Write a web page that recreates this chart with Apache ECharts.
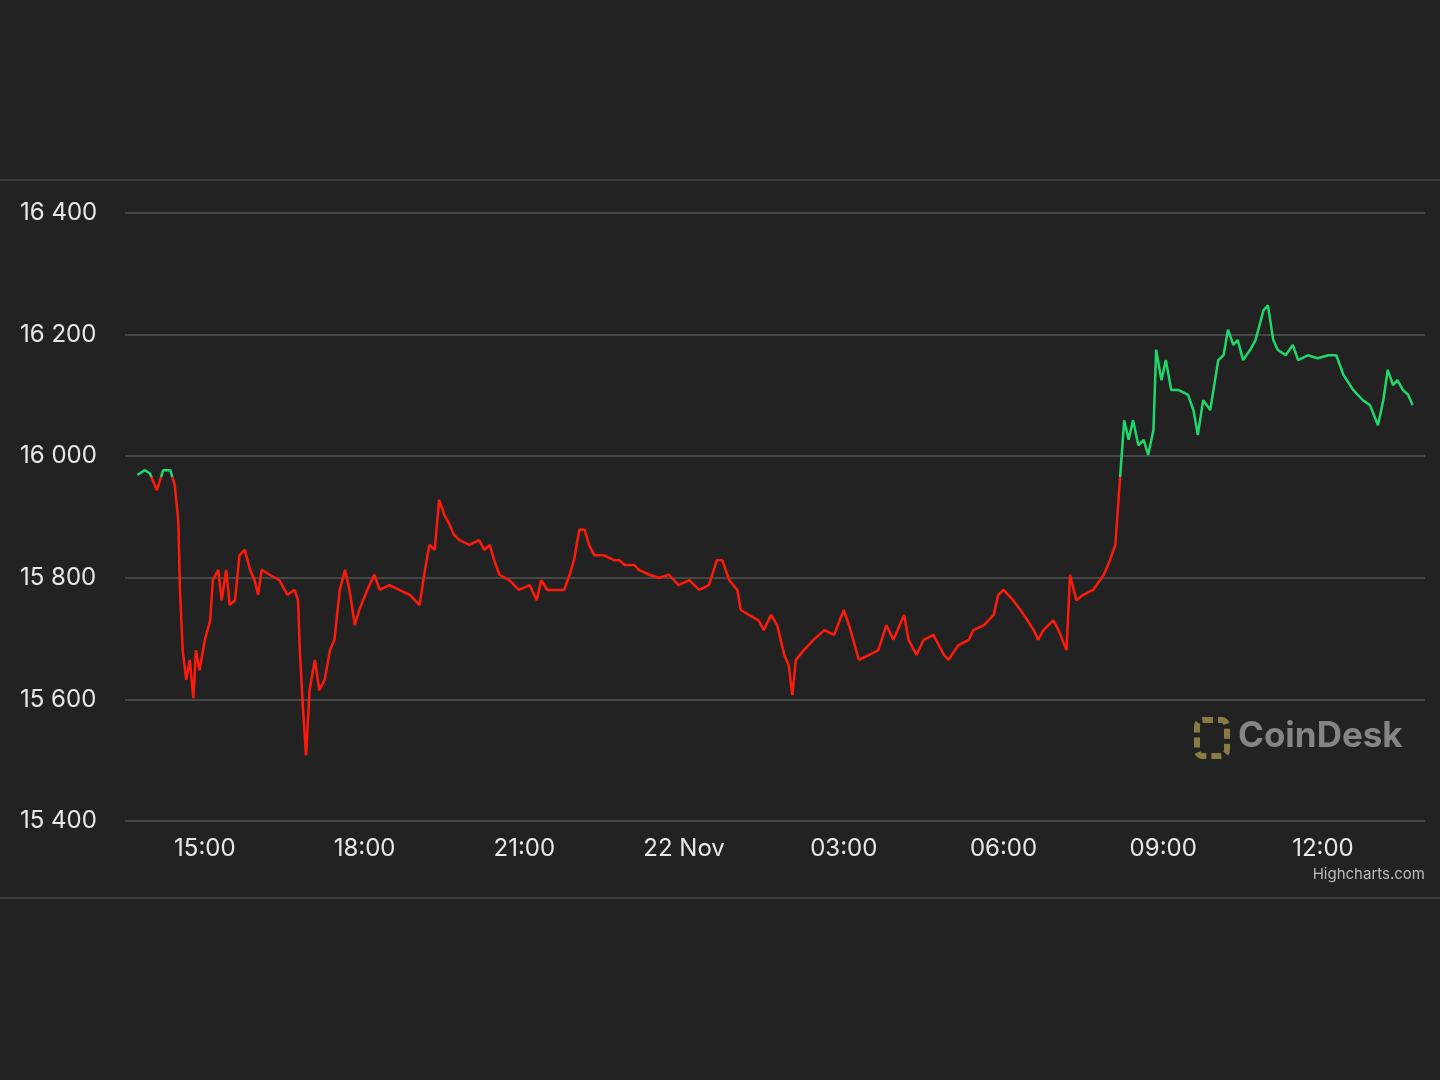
<!DOCTYPE html>
<html><head><meta charset="utf-8">
<script src="https://cdn.jsdelivr.net/npm/echarts@6/dist/echarts.min.js"></script>
<style>html,body{margin:0;background:#222222}#main{width:1440px;height:1080px}</style>
</head><body><div id="main"></div>
<script>
// minutes after 13:30 on 21 Nov
var startMinute = 810;
var minutes = [14,22,28,36,43,51,56,60,62,65,69,73,77,80,84,90,96,99,105,109,114,118,124,129,135,141,146,150,154,163,174,183,191,195,197,200,204,208,214,219,225,231,236,242,248,253,259,264,273,281,287,298,309,321,332,338,343,349,354,360,366,371,377,388,399,405,411,416,422,433,444,456,464,469,476,484,495,501,506,512,518,523,529,540,551,557,563,574,579,591,602,613,624,636,647,658,667,673,681,690,694,703,714,720,728,735,743,748,752,756,765,776,788,799,810,816,827,838,849,858,866,878,883,892,900,911,923,928,939,951,956,968,979,984,990,1001,1013,1024,1029,1035,1046,1052,1061,1065,1072,1080,1091,1103,1110,1116,1122,1126,1131,1136,1142,1148,1153,1159,1162,1168,1173,1179,1187,1198,1204,1209,1215,1223,1232,1238,1243,1249,1254,1260,1268,1274,1283,1288,1294,1299,1308,1316,1322,1333,1344,1356,1365,1373,1384,1395,1403,1412,1418,1423,1429,1434,1440,1446,1451];
var prices = [15969,15977,15972,15944,15977,15977,15953,15895,15780,15681,15632,15665,15602,15681,15648,15698,15730,15796,15813,15763,15813,15755,15763,15837,15846,15813,15796,15772,15813,15805,15796,15772,15780,15763,15681,15599,15508,15615,15665,15615,15632,15681,15698,15780,15813,15780,15722,15747,15780,15805,15780,15788,15780,15772,15755,15813,15854,15846,15928,15903,15887,15870,15862,15854,15862,15846,15854,15829,15805,15796,15780,15788,15763,15796,15780,15780,15780,15805,15829,15879,15879,15854,15837,15837,15829,15829,15821,15821,15813,15805,15800,15805,15788,15796,15780,15788,15829,15829,15796,15780,15747,15739,15730,15714,15739,15722,15673,15656,15607,15665,15681,15698,15714,15706,15747,15722,15665,15673,15681,15722,15698,15739,15698,15673,15698,15706,15673,15665,15689,15698,15714,15722,15739,15772,15780,15763,15739,15714,15698,15714,15730,15714,15681,15805,15763,15772,15780,15805,15829,15854,15977,16059,16027,16059,16018,16027,16002,16043,16175,16125,16158,16109,16109,16101,16076,16035,16092,16076,16158,16166,16208,16183,16191,16158,16175,16191,16240,16248,16191,16175,16166,16183,16158,16166,16161,16166,16166,16134,16109,16092,16084,16051,16092,16142,16117,16125,16109,16101,16084];
var tickMinutes = [900,1080,1260,1440,1620,1800,1980,2160];
var tickLabels = ['15:00','18:00','21:00','22 Nov','03:00','06:00','09:00','12:00'];
var openPrice = 15965;
var yMin = 15400, yMax = 16400;

var data = [];
var n = Math.min(minutes.length, prices.length);
for (var i = 0; i < n; i++) data.push([startMinute + minutes[i], prices[i]]);

var chart = echarts.init(document.getElementById('main'));
var font = 'Inter, "Noto Sans", sans-serif';
var gridTop = 213, gridBottom = 259;
var cut = (yMax - openPrice) / (yMax - yMin);
var lineColor = new echarts.graphic.LinearGradient(0, gridTop, 0, 1080 - gridBottom, [
  {offset: 0, color: '#1ed86a'}, {offset: cut, color: '#1ed86a'},
  {offset: cut, color: '#ff1a0a'}, {offset: 1, color: '#ff1a0a'}
], true);
chart.setOption({
  backgroundColor: '#222222',
  animation: false,
  grid: {left: 125, right: 15, top: gridTop, bottom: gridBottom},
  xAxis: {
    type: 'value', min: 810, max: 2275,
    axisLine: {show: false}, axisTick: {show: false}, splitLine: {show: false},
    axisLabel: {
      customValues: tickMinutes, color: '#e8e8e8', fontSize: 24, fontFamily: font, margin: 16,
      formatter: function (v) { return tickLabels[tickMinutes.indexOf(v)]; }
    }
  },
  yAxis: {
    type: 'value', min: yMin, max: yMax, interval: 200,
    axisLine: {show: false}, axisTick: {show: false},
    splitLine: {lineStyle: {color: '#555555', width: 1.5}},
    axisLabel: {
      color: '#e8e8e8', fontSize: 24, fontFamily: font, align: 'left', margin: 105,
      formatter: function (v) { return String(v).replace(/(\d{2})(\d{3})/, '$1 $2'); }
    }
  },
  series: [{type: 'line', data: data, showSymbol: false, lineStyle: {width: 2.5, color: lineColor}}],
  graphic: [
    {type: 'line', shape: {x1: 0, y1: 180, x2: 1440, y2: 180}, style: {stroke: '#444', lineWidth: 1.5}},
    {type: 'line', shape: {x1: 0, y1: 898, x2: 1440, y2: 898}, style: {stroke: '#444', lineWidth: 1.5}},
    {type: 'rect', shape: {x: 1197, y: 720, width: 30, height: 36, r: 6}, style: {fill: 'none', stroke: '#8c7a45', lineWidth: 6, lineDash: [10, 5]}},
    {type: 'text', left: 1238, top: 719, style: {text: 'CoinDesk', fill: '#858585', font: 'bold 35px ' + font}},
    {type: 'text', right: 15, top: 867, style: {text: 'Highcharts.com', fill: '#bbbbbb', font: '15px ' + font}}
  ]
});
</script></body></html>
